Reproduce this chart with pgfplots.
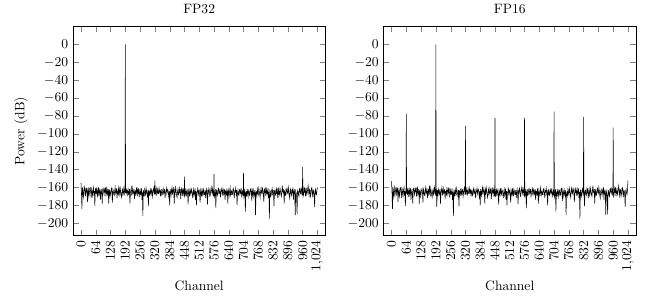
\documentclass[border=0pt]{standalone}
\usepackage{pgfplots}
\usepackage{pgfplotstable}
\pgfplotsset{compat=1.18}

\pgfplotstableread{
ch fpa fpb
0 -155 -153
2 -166 -166
4 -184 -184
6 -160 -160
8 -163 -163
10 -171 -171
12 -168 -168
14 -159 -159
16 -161 -161
18 -166 -166
20 -170 -170
22 -160 -160
24 -164 -164
26 -162 -162
28 -176 -176
30 -165 -165
32 -162 -162
34 -170 -170
36 -167 -167
38 -161 -161
40 -160 -160
42 -165 -165
44 -172 -172
46 -162 -162
48 -165 -165
50 -169 -169
52 -163 -163
54 -160 -160
56 -169 -169
58 -164 -164
60 -181 -181
62 -161 -161
63 -166 -166
64 -162 -78
65 -167 -167
66 -160 -160
68 -166 -166
70 -163 -163
72 -171 -171
74 -165 -165
76 -160 -160
78 -168 -168
80 -165 -165
82 -161 -161
84 -174 -174
86 -166 -166
88 -163 -163
90 -167 -167
92 -178 -178
94 -162 -162
96 -161 -161
98 -165 -165
100 -168 -168
102 -162 -162
104 -164 -164
106 -160 -160
108 -170 -170
110 -165 -165
112 -159 -159
114 -168 -168
116 -166 -166
118 -162 -162
120 -178 -178
122 -164 -164
124 -163 -163
126 -170 -170
128 -167 -167
130 -163 -163
132 -161 -161
134 -166 -166
136 -177 -177
138 -162 -162
140 -164 -164
142 -168 -168
144 -169 -169
146 -163 -163
148 -160 -160
150 -167 -167
152 -166 -166
154 -161 -161
156 -172 -172
158 -165 -165
160 -163 -163
162 -169 -169
164 -158 -158
166 -164 -164
168 -168 -168
170 -161 -161
172 -165 -165
174 -169 -169
176 -171 -171
178 -164 -164
180 -162 -162
182 -168 -168
184 -166 -166
186 -160 -160
188 -164 -164
190 -169 -169
191 -163 -163
192 0 0
193 -166 -166
194 -161 -161
196 -165 -182
198 -163 -163
200 -170 -170
202 -164 -164
204 -162 -162
206 -168 -168
208 -167 -167
210 -162 -162
212 -178 -178
214 -166 -166
216 -163 -163
218 -160 -160
220 -169 -169
222 -165 -165
224 -161 -161
226 -167 -167
228 -166 -166
230 -162 -162
232 -173 -173
234 -165 -165
236 -164 -164
238 -169 -169
240 -160 -160
242 -164 -164
244 -168 -168
246 -162 -162
248 -165 -165
250 -161 -161
252 -171 -171
254 -166 -166
256 -163 -163
258 -168 -168
260 -167 -167
262 -161 -161
264 -174 -174
266 -165 -165
268 -192 -192
270 -163 -163
272 -166 -166
274 -170 -170
276 -162 -162
278 -165 -165
280 -169 -169
282 -161 -161
284 -164 -164
286 -167 -167
288 -171 -171
290 -163 -163
292 -181 -181
294 -164 -164
296 -165 -165
298 -169 -169
300 -161 -161
302 -166 -166
304 -168 -168
306 -162 -162
308 -163 -163
310 -170 -170
312 -166 -166
314 -162 -162
316 -160 -160
318 -168 -168
319 -165 -165
320 -152 -91
321 -163 -163
322 -168 -168
324 -164 -164
326 -161 -161
328 -169 -169
330 -165 -165
332 -162 -162
334 -167 -167
336 -167 -167
338 -161 -161
340 -165 -165
342 -163 -163
344 -170 -170
346 -164 -164
348 -163 -163
350 -169 -169
352 -168 -168
354 -163 -163
356 -161 -161
358 -167 -167
360 -166 -166
362 -162 -162
364 -172 -172
366 -166 -166
368 -164 -164
370 -161 -161
372 -167 -167
374 -163 -163
376 -162 -162
378 -166 -166
380 -170 -170
382 -164 -164
384 -180 -180
386 -162 -162
388 -165 -165
390 -169 -169
392 -163 -163
394 -160 -160
396 -168 -168
398 -164 -164
400 -161 -161
402 -166 -166
404 -178 -178
406 -163 -163
408 -166 -166
410 -160 -160
412 -164 -164
414 -169 -169
416 -171 -171
418 -165 -165
420 -162 -162
422 -168 -168
424 -167 -167
426 -161 -161
428 -165 -165
430 -163 -163
432 -173 -173
434 -166 -166
436 -160 -160
438 -165 -165
440 -168 -168
442 -162 -162
444 -164 -164
446 -170 -170
447 -167 -167
448 -148 -82
449 -164 -164
450 -169 -169
452 -166 -166
454 -161 -161
456 -170 -170
458 -165 -165
460 -163 -163
462 -168 -168
464 -179 -179
466 -163 -163
468 -165 -165
470 -170 -170
472 -161 -161
474 -166 -166
476 -168 -168
478 -162 -162
480 -164 -164
482 -167 -167
484 -172 -172
486 -165 -165
488 -162 -162
490 -169 -169
492 -167 -167
494 -161 -161
496 -174 -174
498 -164 -164
500 -180 -180
502 -166 -166
504 -165 -165
506 -160 -160
508 -169 -169
510 -164 -164
512 -163 -163
514 -168 -168
516 -177 -177
518 -163 -163
520 -166 -166
522 -170 -170
524 -161 -161
526 -166 -166
528 -170 -170
530 -162 -162
532 -164 -164
534 -168 -168
536 -168 -168
538 -163 -163
540 -172 -172
542 -166 -166
544 -162 -162
546 -167 -167
548 -179 -179
550 -164 -164
552 -166 -166
554 -161 -161
556 -163 -163
558 -170 -170
560 -169 -169
562 -163 -163
564 -160 -160
566 -165 -165
568 -167 -167
570 -161 -161
572 -164 -164
574 -170 -170
575 -166 -166
576 -145 -82
577 -165 -165
578 -170 -170
580 -167 -167
582 -162 -162
584 -183 -183
586 -165 -165
588 -163 -163
590 -169 -169
592 -168 -168
594 -162 -162
596 -161 -161
598 -167 -167
600 -166 -166
602 -162 -162
604 -171 -171
606 -165 -165
608 -164 -164
610 -160 -160
612 -169 -169
614 -164 -164
616 -162 -162
618 -168 -168
620 -167 -167
622 -162 -162
624 -174 -174
626 -164 -164
628 -165 -165
630 -169 -169
632 -161 -161
634 -166 -166
636 -178 -178
638 -163 -163
640 -166 -166
642 -169 -169
644 -163 -163
646 -160 -160
648 -170 -170
650 -165 -165
652 -164 -164
654 -168 -168
656 -168 -168
658 -162 -162
660 -161 -161
662 -167 -167
664 -172 -172
666 -164 -164
668 -165 -165
670 -161 -161
672 -167 -167
674 -163 -163
676 -180 -180
678 -166 -166
680 -163 -163
682 -168 -168
684 -169 -169
686 -163 -163
688 -162 -162
690 -167 -167
692 -166 -166
694 -161 -161
696 -171 -171
698 -166 -166
700 -164 -164
702 -169 -169
703 -166 -166
704 -144 -75
705 -163 -163
706 -171 -171
708 -168 -168
710 -162 -162
712 -187 -187
714 -166 -166
716 -165 -165
718 -170 -170
720 -162 -162
722 -166 -166
724 -170 -170
726 -163 -163
728 -164 -164
730 -169 -169
732 -168 -168
734 -162 -162
736 -161 -161
738 -166 -166
740 -175 -175
742 -163 -163
744 -166 -166
746 -170 -170
748 -163 -163
750 -167 -167
752 -169 -169
754 -163 -163
756 -191 -191
758 -166 -166
760 -165 -165
762 -169 -169
764 -162 -162
766 -166 -166
768 -168 -168
770 -161 -161
772 -164 -164
774 -168 -168
776 -171 -171
778 -164 -164
780 -161 -161
782 -166 -166
784 -167 -167
786 -161 -161
788 -163 -163
790 -168 -168
792 -176 -176
794 -163 -163
796 -165 -165
798 -160 -160
800 -169 -169
802 -165 -165
804 -162 -162
806 -168 -168
808 -166 -166
810 -161 -161
812 -172 -172
814 -165 -165
816 -195 -195
818 -163 -163
820 -164 -164
822 -170 -170
824 -168 -168
826 -163 -163
828 -161 -161
830 -167 -167
831 -165 -165
832 -166 -81
833 -163 -163
834 -168 -168
836 -181 -181
838 -164 -164
840 -163 -163
842 -168 -168
844 -169 -169
846 -162 -162
848 -165 -165
850 -161 -161
852 -172 -172
854 -166 -166
856 -162 -162
858 -169 -169
860 -167 -167
862 -161 -161
864 -164 -164
866 -168 -168
868 -170 -170
870 -164 -164
872 -158 -158
874 -165 -165
876 -166 -166
878 -162 -162
880 -178 -178
882 -165 -165
884 -163 -163
886 -169 -169
888 -168 -168
890 -163 -163
892 -161 -161
894 -166 -166
896 -167 -167
898 -160 -160
900 -164 -164
902 -169 -169
904 -172 -172
906 -164 -164
908 -162 -162
910 -167 -167
912 -169 -169
914 -163 -163
916 -165 -165
918 -160 -160
920 -174 -174
922 -165 -165
924 -163 -163
926 -168 -168
928 -191 -191
930 -164 -164
932 -166 -166
934 -171 -171
936 -190 -190
938 -163 -163
940 -164 -164
942 -168 -168
944 -170 -170
946 -162 -162
948 -161 -161
950 -166 -166
952 -167 -167
954 -161 -161
956 -163 -163
958 -169 -169
959 -166 -166
960 -137 -93
961 -164 -164
962 -170 -170
964 -168 -168
966 -161 -161
968 -164 -164
970 -160 -160
972 -170 -170
974 -165 -165
976 -162 -162
978 -168 -168
980 -166 -166
982 -161 -161
984 -158 -158
986 -165 -165
988 -169 -169
990 -162 -162
992 -163 -163
994 -170 -170
996 -167 -167
998 -161 -161
1000 -160 -160
1002 -166 -166
1004 -171 -171
1006 -163 -163
1008 -164 -164
1010 -168 -168
1012 -182 -182
1014 -164 -164
1016 -162 -162
1018 -167 -167
1020 -168 -168
1022 -163 -163
1024 -160 -152
}\datatable

\pgfplotsset{
  panel/.style={
    scale only axis,
    width=186pt, height=154pt,
    anchor=south west,
    xmin=-35, xmax=1059,
    ymin=-214, ymax=20,
    xtick={0,64,...,1024},
    ytick={-200,-180,...,0},
    xticklabel style={rotate=90, anchor=east},
    xlabel={Channel},
  }
}

\begin{document}
\begin{tikzpicture}
\begin{axis}[panel, at={(0pt,0pt)}, title={FP32}, ylabel={Power (dB)}]
\addplot[black, line width=0.4pt, mark=none] table[x=ch, y=fpa] {\datatable};
\end{axis}
\begin{axis}[panel, at={(228.7pt,0pt)}, title={FP16}]
\addplot[black, line width=0.4pt, mark=none] table[x=ch, y=fpb] {\datatable};
\end{axis}
\pgfresetboundingbox
\useasboundingbox (-53.7pt,-44.9pt) rectangle (421.3pt,173.6pt);
\end{tikzpicture}
\end{document}
